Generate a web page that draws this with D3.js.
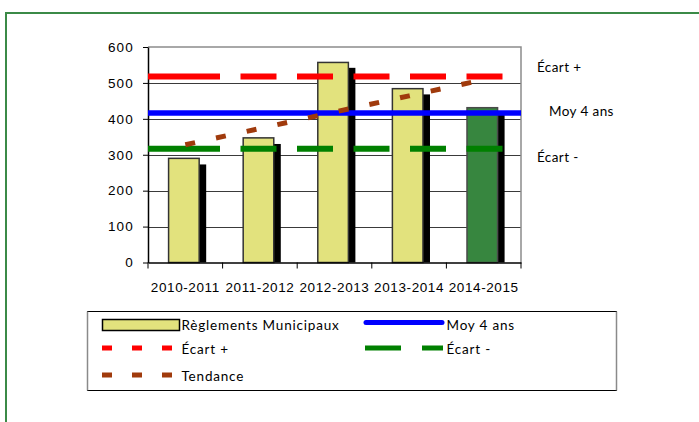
<!DOCTYPE html>
<html>
<head>
<meta charset="utf-8">
<script src="https://cdn.jsdelivr.net/npm/d3@7"></script>
<style>
  body { margin: 0; background: #fff; }
  svg { display: block; font-family: Lato, "Liberation Sans", sans-serif; }
  .axis text { font-size: 13.5px; fill: #000; }
</style>
</head>
<body>
<svg id="chart" width="699" height="422"></svg>
<script>
// chart values
const categories = ["2010-2011", "2011-2012", "2012-2013", "2013-2014", "2014-2015"];
const reglements = [290, 347, 557, 484, 431];
const ombre = [273, 330, 542, 468, 414];
const tendance = [328, 373, 419, 464, 509];
const refNames = ["Écart +", "Moy 4 ans", "Écart -"];
const refValues = [518, 416, 317];
const yTicks = [0, 100, 200, 300, 400, 500, 600];

const svg = d3.select("#chart");
const plotLeft = 148, plotTop = 47, width = 373, height = 215.5;

// outer frame (runs off the page)
svg.append("rect")
  .attr("x", 6).attr("y", 13)
  .attr("width", 720).attr("height", 430)
  .attr("fill", "none")
  .attr("stroke", "#3b8a47")
  .attr("stroke-width", 2);

const x = d3.scaleBand()
  .domain(categories)
  .range([plotLeft, plotLeft + width]);
const bw = x.bandwidth();
const y = d3.scaleLinear()
  .domain([0, 600])
  .range([plotTop + height, plotTop]);

// gridlines
svg.append("g")
  .selectAll("line")
  .data(yTicks.filter(d => d > 0 && d < 600))
  .enter()
  .append("line")
  .attr("x1", plotLeft).attr("x2", plotLeft + width)
  .attr("y1", d => Math.round(y(d)) + 0.5)
  .attr("y2", d => Math.round(y(d)) + 0.5)
  .attr("stroke", "#3a3a3a");

// plot border top / right
svg.append("path")
  .attr("d", `M${plotLeft},${plotTop}H${plotLeft + width}V${plotTop + height}`)
  .attr("fill", "none")
  .attr("stroke", "#8c8c8c")
  .attr("stroke-width", 1.5);

// y axis
const yAxis = d3.axisLeft(y)
  .tickValues(yTicks)
  .tickSize(5)
  .tickPadding(9)
  .tickSizeOuter(0);
const gy = svg.append("g")
  .attr("class", "axis")
  .attr("transform", `translate(${plotLeft},0)`)
  .call(yAxis);
gy.select(".domain").attr("stroke", "#000").attr("stroke-width", 1.5);
gy.selectAll("text").style("letter-spacing", "1.2px");

// shadow bars then main bars
svg.append("g")
  .selectAll("rect")
  .data(ombre)
  .enter()
  .append("rect")
  .attr("x", (d, i) => x(categories[i]) + bw * 0.66)
  .attr("y", d => y(d))
  .attr("width", bw * 0.12)
  .attr("height", d => y(0) - y(d))
  .attr("fill", "#000");

svg.append("g")
  .selectAll("rect")
  .data(reglements)
  .enter()
  .append("rect")
  .attr("x", (d, i) => x(categories[i]) + bw * 0.276)
  .attr("y", d => y(d))
  .attr("width", bw * 0.41)
  .attr("height", d => y(0) - y(d))
  .attr("fill", (d, i) => i == 4 ? "#37863f" : "#e2e27d")
  .attr("stroke", (d, i) => i == 4 ? "#4a4a4a" : "#333")
  .attr("stroke-width", 1.5);

// x axis
const xAxis = d3.axisBottom(x)
  .tickSize(6)
  .tickPadding(14)
  .tickSizeOuter(0);
const gx = svg.append("g")
  .attr("class", "axis")
  .attr("transform", `translate(0,${plotTop + height})`)
  .call(xAxis);
gx.select(".domain").attr("stroke", "#000").attr("stroke-width", 1.5);
gx.selectAll(".tick line").attr("x1", -bw / 2).attr("x2", -bw / 2);
gx.append("line")
  .attr("x1", plotLeft + width).attr("x2", plotLeft + width)
  .attr("y1", 0).attr("y2", 6)
  .attr("stroke", "#000");
gx.selectAll("text").style("letter-spacing", "0.6px");

// reference lines
const refColors = ["#ff0000", "#0000ff", "#008000"];
const dash = "72 20.5 36 20.5 36 20.5 36 20.5 36 20.5 36 20.5";
svg.append("g")
  .selectAll("line")
  .data(refValues)
  .enter()
  .append("line")
  .attr("x1", plotLeft).attr("x2", plotLeft + width)
  .attr("y1", d => y(d)).attr("y2", d => y(d))
  .attr("stroke", (d, i) => refColors[i])
  .attr("stroke-width", (d, i) => i == 1 ? 5.5 : 6)
  .attr("stroke-dasharray", (d, i) => i == 1 ? null : dash);

// trend
const line = d3.line()
  .x((d, i) => x(categories[i]) + bw / 2)
  .y(d => y(d));
svg.append("path")
  .datum(tendance)
  .attr("d", line)
  .attr("fill", "none")
  .attr("stroke", "#a03a0c")
  .attr("stroke-width", 5)
  .attr("stroke-dasharray", "10 21.4");

// labels right of the plot
const refLabelX = [537, 549, 537];
svg.append("g")
  .selectAll("text")
  .data(refNames)
  .enter()
  .append("text")
  .attr("x", (d, i) => refLabelX[i])
  .attr("y", (d, i) => [71.5, 116, 161.5][i])
  .attr("font-size", 13.5)
  .style("letter-spacing", "0.4px")
  .text(d => d);

// legend
const legend = svg.append("g");
legend.append("rect")
  .attr("x", 87.5).attr("y", 311.5)
  .attr("width", 529).attr("height", 79)
  .attr("fill", "#fff")
  .attr("stroke", "#000");
legend.append("line")
  .attr("x1", 87.5).attr("x2", 87.5).attr("y1", 311.5).attr("y2", 390.5)
  .attr("stroke", "#8a8a8a").attr("stroke-width", 1.5);
legend.append("line")
  .attr("x1", 616.5).attr("x2", 616.5).attr("y1", 311.5).attr("y2", 390.5)
  .attr("stroke", "#8a8a8a").attr("stroke-width", 1.5);

legend.append("rect")
  .attr("x", 102.5).attr("y", 319.5)
  .attr("width", 77).attr("height", 11)
  .attr("fill", "#e2e27d")
  .attr("stroke", "#000")
  .attr("stroke-width", 1.5);
legend.append("line")
  .attr("x1", 366).attr("x2", 442).attr("y1", 322.5).attr("y2", 322.5)
  .attr("stroke", "#0000ff").attr("stroke-width", 5)
  .attr("stroke-linecap", "round");
legend.append("line")
  .attr("x1", 102).attr("x2", 173).attr("y1", 348).attr("y2", 348)
  .attr("stroke", "#ff0000").attr("stroke-width", 5)
  .attr("stroke-dasharray", "10 20");
legend.append("line")
  .attr("x1", 365).attr("x2", 443).attr("y1", 348).attr("y2", 348)
  .attr("stroke", "#008000").attr("stroke-width", 5)
  .attr("stroke-dasharray", "36 21");
legend.append("line")
  .attr("x1", 102).attr("x2", 173).attr("y1", 375).attr("y2", 375)
  .attr("stroke", "#a03a0c").attr("stroke-width", 5)
  .attr("stroke-dasharray", "10 20");

const legendNames = ["Règlements Municipaux", "Moy 4 ans", refNames[0], refNames[2], "Tendance"];
const legendX = [181.5, 446.5, 181.5, 446.5, 181.5];
const legendY = [329.5, 329.5, 354, 354, 381];
legend.selectAll(".lt")
  .data(legendNames)
  .enter()
  .append("text")
  .attr("class", "lt")
  .attr("x", (d, i) => legendX[i])
  .attr("y", (d, i) => legendY[i])
  .attr("font-size", 13.5)
  .style("letter-spacing", "0.8px")
  .text(d => d);
</script>
</body>
</html>
